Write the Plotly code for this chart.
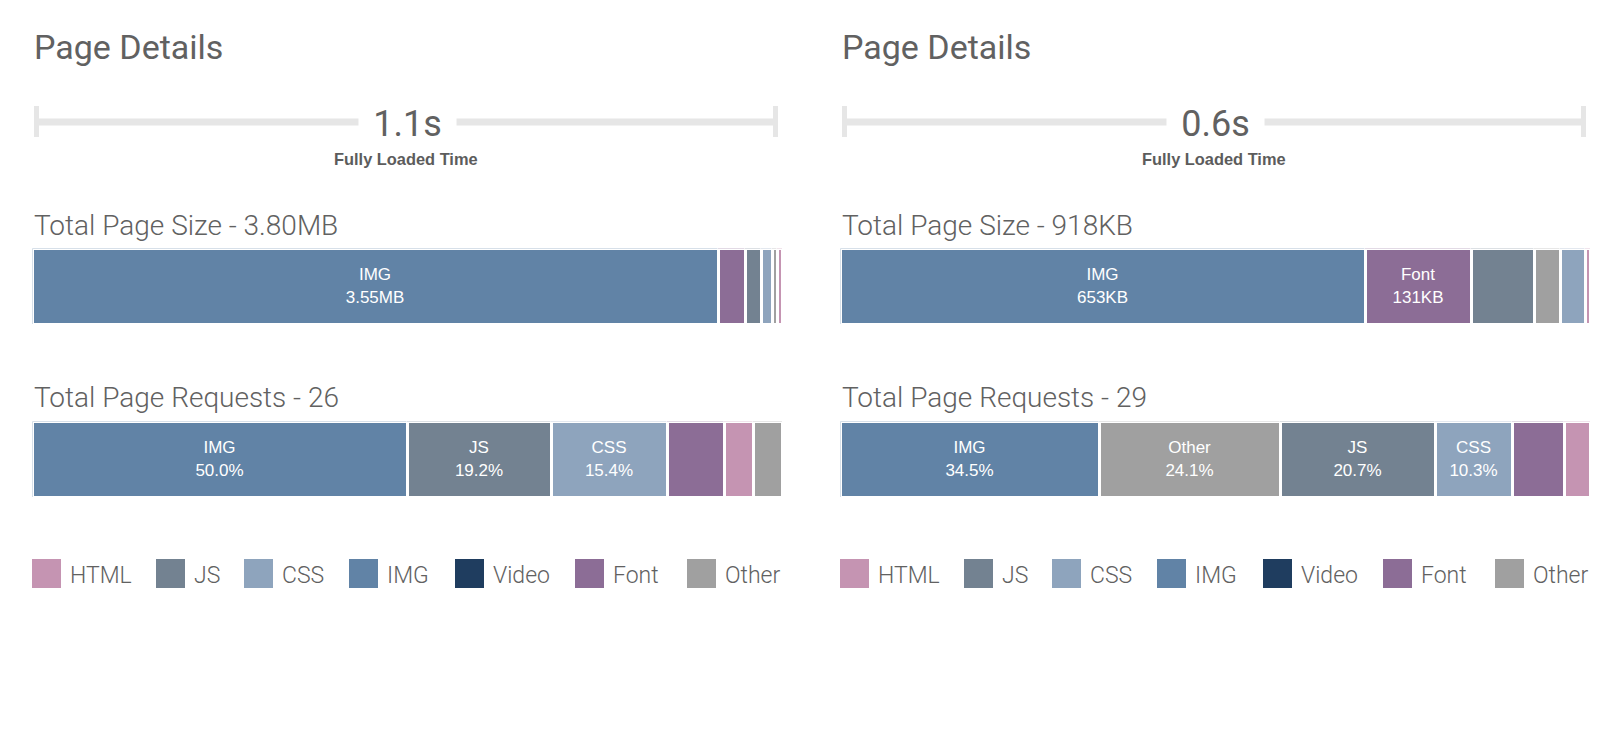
import plotly.graph_objects as go

W, H = 1620, 730

# ---------------- data ----------------
legend_categories = ["HTML", "JS", "CSS", "IMG", "Video", "Font", "Other"]
category_colors = {
    "HTML": "#c594b2",
    "JS": "#738291",
    "CSS": "#8ea4bd",
    "IMG": "#6183a6",
    "Video": "#1f3d5f",
    "Font": "#8c6d96",
    "Other": "#a0a0a0",
}

# left page
left_load_time = "1.1s"
left_size_total = "3.80MB"
left_size_cats = ["IMG", "Font", "JS", "CSS", "Other", "HTML"]
left_size_mb = [3.55, 0.14, 0.083, 0.057, 0.026, 0.026]
left_req_cats = ["IMG", "JS", "CSS", "Font", "HTML", "Other"]
left_req_counts = [13, 5, 4, 2, 1, 1]

# right page
right_load_time = "0.6s"
right_size_total = "918KB"
right_size_cats = ["IMG", "Font", "JS", "Other", "CSS", "HTML"]
right_size_kb = [653, 131, 78, 33, 31, 6]
right_req_cats = ["IMG", "Other", "JS", "CSS", "Font", "HTML"]
right_req_counts = [10, 7, 6, 3, 2, 1]

# ---------------- helpers ----------------
TITLE_FONT = "Roboto, 'Open Sans', sans-serif"
LABEL_FONT = "'Liberation Sans', Arial, sans-serif"
GRAY = "#616161"


def px(x):
    return x / W


def py(y):
    return (H - y) / H


fig = go.Figure()


def add_bar(cats, values, labels, axis_idx):
    xa = "x" if axis_idx == 1 else f"x{axis_idx}"
    ya = "y" if axis_idx == 1 else f"y{axis_idx}"
    total = sum(values)
    for c, v, lab in zip(cats, values, labels):
        show = v / total >= 0.10
        fig.add_trace(go.Bar(
            x=[v], y=[0], orientation="h",
            name=c,
            marker=dict(color=category_colors[c], line=dict(color="white", width=3)),
            text=[f"{c}<br>{lab}" if show else ""],
            textposition="inside" if show else "none",
            insidetextanchor="middle",
            textangle=0,
            textfont=dict(family=LABEL_FONT, size=17, color="white"),
            hoverinfo="x+name",
            showlegend=False,
            xaxis=xa, yaxis=ya,
        ))


def pct_labels(counts):
    t = sum(counts)
    return [f"{100 * c / t:.1f}%" for c in counts]


add_bar(left_size_cats, left_size_mb, [f"{v:.2f}MB" for v in left_size_mb], 1)
add_bar(left_req_cats, left_req_counts, pct_labels(left_req_counts), 2)
add_bar(right_size_cats, right_size_kb, [f"{v:.0f}KB" for v in right_size_kb], 3)
add_bar(right_req_cats, right_req_counts, pct_labels(right_req_counts), 4)

# ---------------- layout ----------------
panels = [
    dict(x0=34, x1=781, time=left_load_time, size=left_size_total,
         req=sum(left_req_counts), size_vals=left_size_mb, req_vals=left_req_counts),
    dict(x0=842, x1=1589, time=right_load_time, size=right_size_total,
         req=sum(right_req_counts), size_vals=right_size_kb, req_vals=right_req_counts),
]

# legend swatch left edges relative to panel start
legend_offsets = [-2, 122, 210, 315, 421, 541, 653]

axes = {}
annotations = []
shapes = []
for i, p in enumerate(panels):
    xd = [px(p["x0"] - 1.5), px(p["x1"] + 1.5)]
    size_dom = [py(324.5), py(248.5)]
    req_dom = [py(497.5), py(421.5)]
    for k, (dom, vals) in enumerate([(size_dom, p["size_vals"]), (req_dom, p["req_vals"])]):
        idx = 2 * i + k + 1
        xn = "xaxis" if idx == 1 else f"xaxis{idx}"
        yn = "yaxis" if idx == 1 else f"yaxis{idx}"
        axes[xn] = dict(domain=xd, range=[0, sum(vals)], visible=False,
                        anchor="y" if idx == 1 else f"y{idx}", fixedrange=True)
        axes[yn] = dict(domain=dom, range=[-0.5, 0.5], visible=False,
                        anchor="x" if idx == 1 else f"x{idx}", fixedrange=True)

    x0, x1 = p["x0"], p["x1"] - 3
    xc = (x0 + x1) / 2
    # timeline
    shapes.append(dict(type="line", xref="paper", yref="paper",
                       x0=px(x0), x1=px(x1), y0=py(122), y1=py(122),
                       line=dict(color="#e6e6e6", width=7)))
    for xe in (x0 + 2.5, x1 - 2.5):
        shapes.append(dict(type="line", xref="paper", yref="paper",
                           x0=px(xe), x1=px(xe), y0=py(106), y1=py(137),
                           line=dict(color="#e6e6e6", width=5)))
    annotations += [
        dict(text="Page Details", x=px(x0 - 2), y=py(47), xanchor="left", yanchor="middle",
             font=dict(family=TITLE_FONT, size=34, color=GRAY)),
        dict(text=p["time"], x=px(xc + 1), y=py(123.6), xanchor="center", yanchor="middle",
             width=95, height=40, bgcolor="white",
             font=dict(family=TITLE_FONT, size=36, color=GRAY)),
        dict(text="<b>Fully Loaded Time</b>", x=px(xc), y=py(159.3), xanchor="center",
             yanchor="middle", font=dict(family=LABEL_FONT, size=16.4, color="#5c5c5c")),
        dict(text=f"Total Page Size - {p['size']}", x=px(x0 - 2), y=py(225.5),
             xanchor="left", yanchor="middle",
             font=dict(family=TITLE_FONT, size=28, color=GRAY, weight=300)),
        dict(text=f"Total Page Requests - {p['req']}", x=px(x0 - 2), y=py(397.5),
             xanchor="left", yanchor="middle",
             font=dict(family=TITLE_FONT, size=28, color=GRAY, weight=300)),
    ]
    # legend
    for c, off in zip(legend_categories, legend_offsets):
        lx = x0 + off
        shapes.append(dict(type="rect", xref="paper", yref="paper",
                           x0=px(lx), x1=px(lx + 29), y0=py(588), y1=py(559),
                           fillcolor=category_colors[c], line=dict(width=0)))
        annotations.append(dict(text=c, x=px(lx + 36), y=py(575.5), xanchor="left",
                                yanchor="middle",
                                font=dict(family=TITLE_FONT, size=23, color=GRAY, weight=300)))

for a in annotations:
    a.update(xref="paper", yref="paper", showarrow=False)

fig.update_layout(
    width=W, height=H,
    margin=dict(l=0, r=0, t=0, b=0),
    paper_bgcolor="white", plot_bgcolor="white",
    barmode="stack", bargap=0,
    showlegend=False,
    annotations=annotations, shapes=shapes,
    hovermode="closest",
    **axes,
)

fig.write_html("out.html")
